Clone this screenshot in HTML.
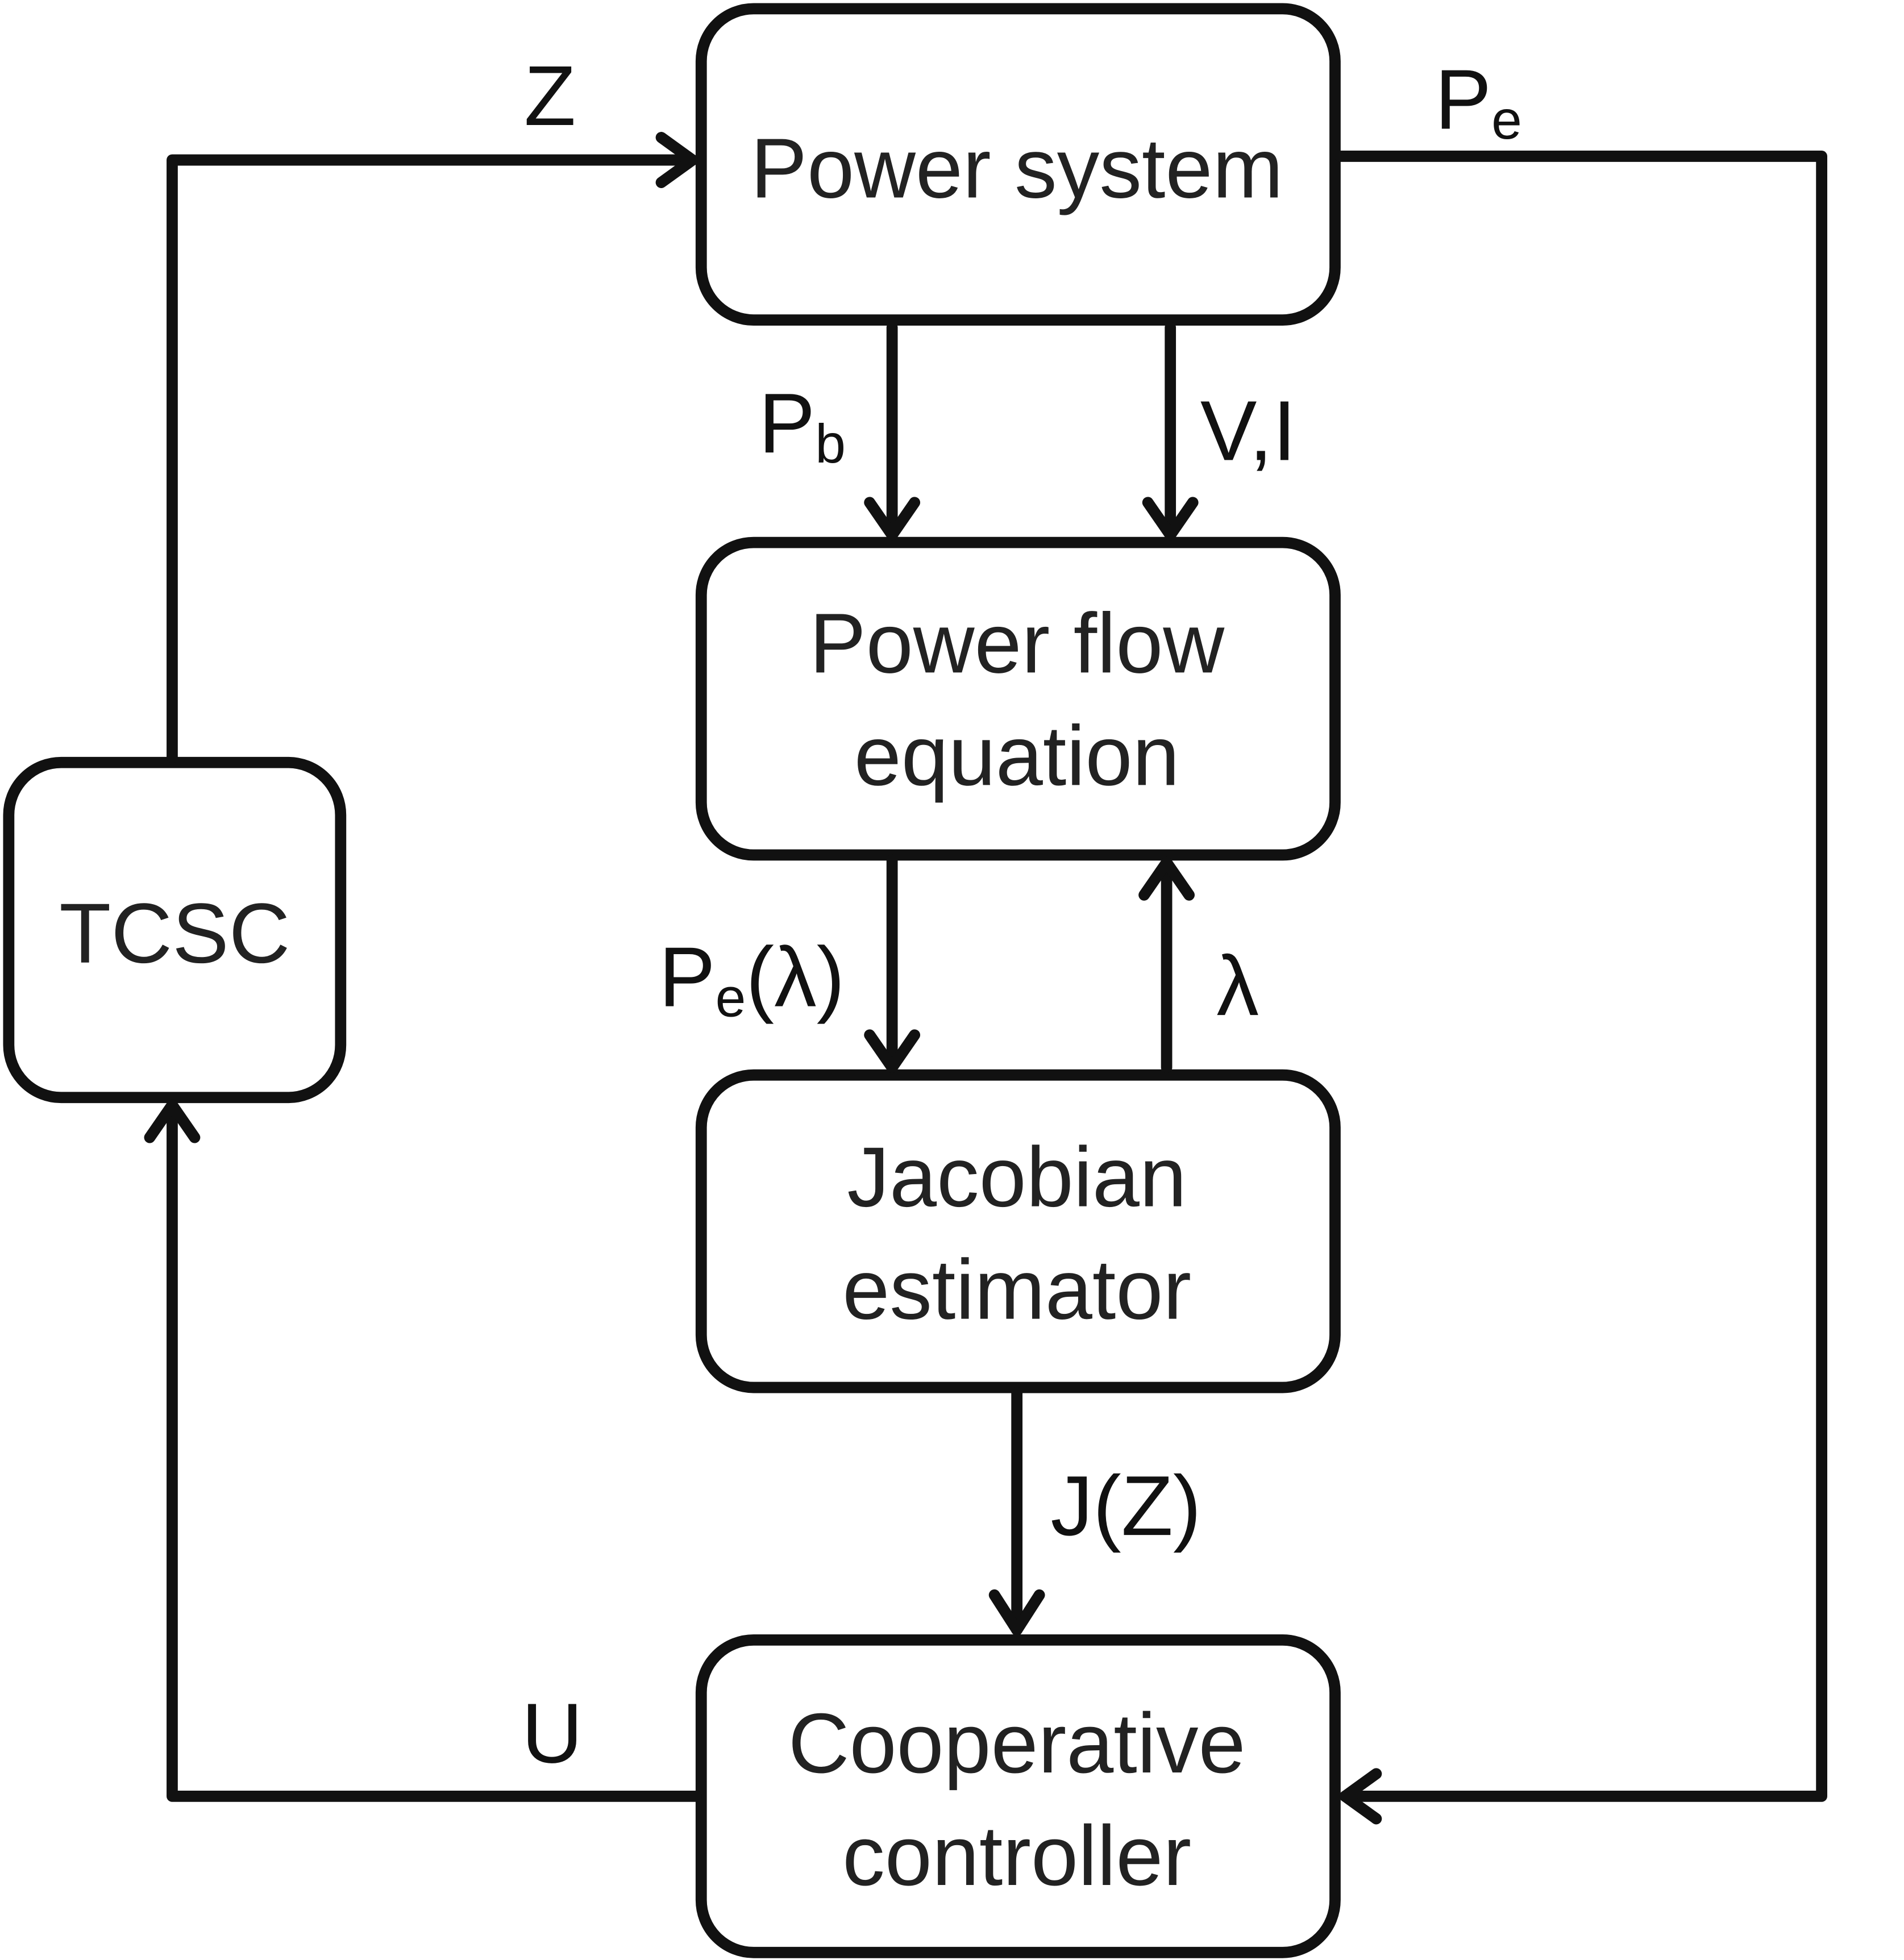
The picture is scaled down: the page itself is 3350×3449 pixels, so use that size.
<!DOCTYPE html>
<html><head><meta charset="utf-8"><style>html,body{margin:0;padding:0;background:#fff}svg{display:block}</style></head>
<body>
<svg width="3350" height="3449" viewBox="0 0 1526 1568" preserveAspectRatio="none" xmlns="http://www.w3.org/2000/svg">
<g fill="none" stroke="#111" stroke-width="9" stroke-linecap="round" stroke-linejoin="round">
<rect x="562" y="7" width="508" height="249" rx="42"/>
<rect x="562" y="434" width="508" height="250" rx="42"/>
<rect x="562" y="860" width="508" height="250" rx="42"/>
<rect x="562" y="1312" width="508" height="250" rx="42"/>
<rect x="7" y="610" width="266" height="268" rx="42"/>
<polyline points="138,606 138,128 555,128"/>
<polyline points="530,110 555,128 530,146"/>
<polyline points="1074,125 1460,125 1460,1437 1078,1437"/>
<polyline points="1103,1419 1078,1437 1103,1455"/>
<line x1="715" y1="262" x2="715" y2="428"/>
<polyline points="697,402 715,428 733,402"/>
<line x1="938" y1="262" x2="938" y2="428"/>
<polyline points="920,402 938,428 956,402"/>
<line x1="715" y1="688" x2="715" y2="854"/>
<polyline points="697,828 715,854 733,828"/>
<line x1="935" y1="854" x2="935" y2="690"/>
<polyline points="917,716 935,690 953,716"/>
<line x1="815" y1="1114" x2="815" y2="1304"/>
<polyline points="797,1276 815,1304 833,1276"/>
<polyline points="558,1437 138,1437 138,884"/>
<polyline points="120,910 138,884 156,910"/>
</g>
<g font-family="Liberation Sans, Arial, sans-serif" fill="#222" font-size="68" text-anchor="middle">
<text x="815" y="158">Power system</text>
<text x="815" y="538">Power flow</text>
<text x="815" y="628">equation</text>
<text x="815" y="965">Jacobian</text>
<text x="815" y="1055">estimator</text>
<text x="815" y="1418">Cooperative</text>
<text x="815" y="1508">controller</text>
<text x="140" y="770">TCSC</text>
</g>
<g font-family="Liberation Sans, Arial, sans-serif" fill="#111" font-size="68">
<text x="420" y="100">Z</text>
<text x="1150" y="103">P<tspan font-size="44" dy="8">e</tspan></text>
<text x="608" y="362">P<tspan font-size="44" dy="8">b</tspan></text>
<text x="962" y="368">V,I</text>
<text x="528" y="805">P<tspan font-size="44" dy="8">e</tspan><tspan dy="-8">(λ)</tspan></text>
<text x="975" y="812">λ</text>
<text x="842" y="1228">J(Z)</text>
<text x="418" y="1410">U</text>
</g>
</svg>
</body></html>
